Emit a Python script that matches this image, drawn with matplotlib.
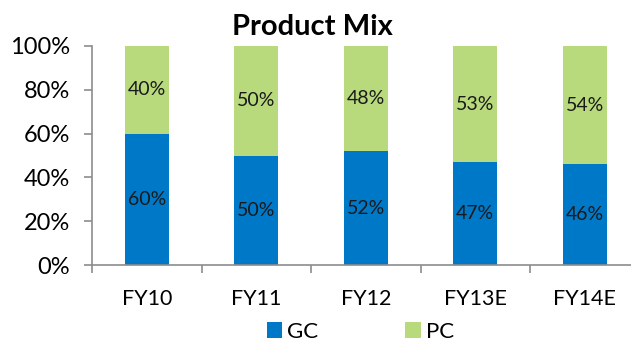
import numpy as np
import matplotlib
matplotlib.use("Agg")
import matplotlib.pyplot as plt
from matplotlib.ticker import FixedLocator, PercentFormatter

plt.rcParams['font.family'] = ['Lato', 'DejaVu Sans']

years = ['FY10', 'FY11', 'FY12', 'FY13E', 'FY14E']
gc_share = [60, 50, 52, 47, 46]
pc_share = [40, 50, 48, 53, 54]

blue = '#0078C8'
green = '#B8DA7C'
axis_grey = '#8C8C8C'

fig = plt.figure(figsize=(6.31, 3.45), dpi=100)
# axes runs a little past the right edge, like the exported slide
ax = fig.add_axes([92 / 631, 80 / 345, 547.5 / 631, 219 / 345])

x = np.arange(len(years))
width = 0.4
gc_bars = ax.bar(x, gc_share, width, color=blue, label='GC')
pc_bars = ax.bar(x, pc_share, width, bottom=gc_share, color=green, label='PC')

# value labels centred in each segment
for i in range(len(years)):
    ax.text(x[i], gc_share[i] / 2, f'{gc_share[i]}%', ha='center', va='center',
            fontsize=14, color='#1a1a1a')
    ax.text(x[i], gc_share[i] + pc_share[i] / 2, f'{pc_share[i]}%', ha='center',
            va='center', fontsize=14, color='#1a1a1a')

ax.set_xlim(-0.5, len(years) - 0.5)
ax.set_ylim(0, 100)
ax.set_yticks(np.arange(0, 101, 20))
ax.yaxis.set_major_formatter(PercentFormatter(decimals=0))

# category separators as ticks, names on minor ticks at bar centres
ax.xaxis.set_major_locator(FixedLocator(np.arange(-0.5, len(years), 1.0)))
ax.xaxis.set_major_formatter(plt.NullFormatter())
ax.xaxis.set_minor_locator(FixedLocator(x))
ax.set_xticklabels(years, minor=True)
ax.tick_params(axis='x', which='major', length=6, width=1.2, color=axis_grey, direction='out')
ax.tick_params(axis='x', which='minor', length=0, pad=17, labelsize=15.5)
ax.tick_params(axis='y', length=6, width=1.2, color=axis_grey, direction='out',
               labelsize=17, pad=10)

for side in ['top', 'right']:
    ax.spines[side].set_visible(False)
for side in ['left', 'bottom']:
    ax.spines[side].set_color(axis_grey)
    ax.spines[side].set_linewidth(1.2)

fig.text(312 / 631, 1 - 35 / 345, 'Product Mix', ha='center', va='baseline',
         fontsize=21, fontweight='bold')

ax.legend(loc='center', bbox_to_anchor=(0.49, -0.305), ncol=2, frameon=False,
          fontsize=16, handlelength=0.7, handleheight=0.75, handletextpad=0.22,
          columnspacing=3.9, borderaxespad=0)

fig.savefig('out.png', dpi=100)
